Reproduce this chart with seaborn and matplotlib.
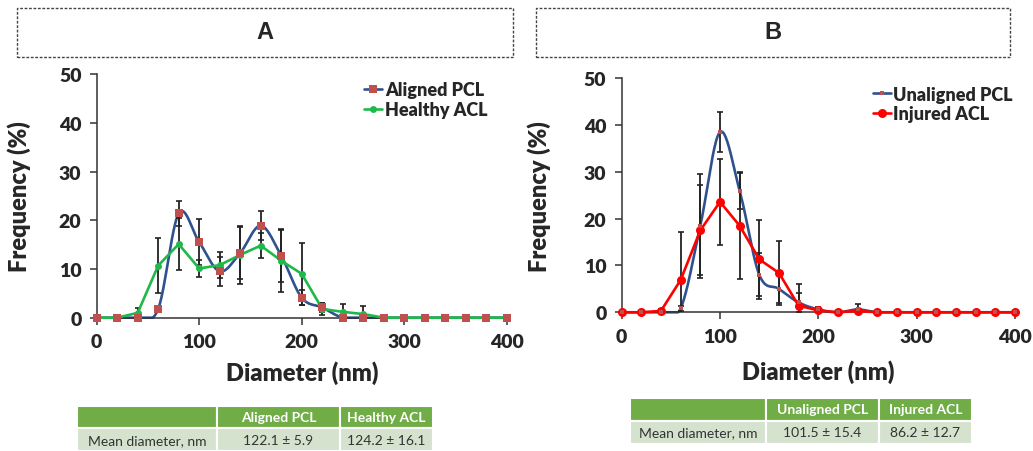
import matplotlib
matplotlib.use("Agg")
import matplotlib.pyplot as plt
from matplotlib.lines import Line2D
from matplotlib.patches import Rectangle
import numpy as np
import pandas as pd
import seaborn as sns

# ---- data ----
diameter = list(range(0, 401, 20))

aligned_pcl = [0, 0, 0, 1.8, 21.4, 15.5, 9.5, 13.3, 18.9, 12.7, 4.1, 2.1,
               0, 0, 0, 0, 0, 0, 0, 0, 0]
aligned_err = [0, 0, 0, 0.5, 2.6, 4.7, 3.0, 5.4, 2.9, 5.3, 1.5, 1.0,
               0, 0, 0, 0, 0, 0, 0, 0, 0]
healthy_acl = [0, 0, 1.0, 10.7, 15.1, 10.1, 10.8, 12.9, 14.8, 11.7, 9.0, 1.8,
               1.2, 0.75, 0, 0, 0, 0, 0, 0, 0]
healthy_err = [0, 0, 0.9, 5.6, 5.3, 1.7, 2.6, 5.9, 2.5, 6.5, 6.3, 1.2,
               1.6, 1.7, 0, 0, 0, 0, 0, 0, 0]

unaligned_pcl = [0, 0, 0, 0.85, 18.5, 38.5, 26.0, 8.0, 5.0, 2.1, 0.6, 0,
                 0.6, 0, 0, 0, 0, 0, 0, 0, 0]
unaligned_err = [0, 0, 0, 0.5, 11.1, 4.3, 4.0, 4.6, 3.0, 2.0, 0.5, 0,
                 1.2, 0, 0, 0, 0, 0, 0, 0, 0]
injured_acl = [0, 0, 0.3, 6.9, 17.5, 23.6, 18.5, 11.3, 8.4, 1.4, 0.4, 0,
               0.3, 0, 0, 0, 0, 0, 0, 0, 0]
injured_err = [0, 0, 0.3, 10.3, 9.6, 9.2, 11.3, 8.4, 6.9, 4.6, 0.3, 0,
               0, 0, 0, 0, 0, 0, 0, 0, 0]

table_a_cols = ["", "Aligned PCL", "Healthy ACL"]
table_a_row = ["Mean diameter, nm", "122.1 \u00b1 5.9", "124.2 \u00b1 16.1"]
table_b_cols = ["", "Unaligned PCL", "Injured ACL"]
table_b_row = ["Mean diameter, nm", "101.5 \u00b1 15.4", "86.2 \u00b1 12.7"]

BLUE = "#2F528F"
MUTED_RED = "#C0504D"
GREEN = "#1FB94A"
RED = "#FF0000"
HEAD_GREEN = "#70AD47"
ROW_GREEN = "#D5E3CE"
HEAVY = "heavy"


def smooth(x, y, n=24):
    """Catmull-Rom curve through the points, similar to Excel's smoothed line."""
    x = np.asarray(x, float)
    y = np.asarray(y, float)
    yp = np.concatenate([[y[0]], y, [y[-1]]])
    xs, ys = [], []
    t = np.linspace(0, 1, n, endpoint=False)
    for i in range(len(x) - 1):
        p0, p1, p2, p3 = yp[i], yp[i + 1], yp[i + 2], yp[i + 3]
        seg = 0.5 * (2 * p1 + (-p0 + p2) * t + (2 * p0 - 5 * p1 + 4 * p2 - p3) * t ** 2
                     + (-p0 + 3 * p1 - 3 * p2 + p3) * t ** 3)
        xs.append(x[i] + (x[i + 1] - x[i]) * t)
        ys.append(seg)
    xs.append([x[-1]])
    ys.append([y[-1]])
    return np.concatenate(xs), np.maximum(np.concatenate(ys), 0)


sns.set_style("ticks")
plt.rcParams["font.family"] = ["Lato", "DejaVu Sans"]
plt.rcParams["font.weight"] = HEAVY

fig = plt.figure(figsize=(10.33, 4.52), dpi=100)


def draw_panel(rect, smooth_vals, smooth_err, smooth_label, smooth_ms,
               line_vals, line_err, line_label, line_color, line_ms, legend_anchor,
               ylabel_x, xlabel_y):
    ax = fig.add_axes(rect)
    df = pd.DataFrame({"d": diameter, "s": smooth_vals, "l": line_vals})

    # error bars
    ax.errorbar(diameter, smooth_vals, yerr=smooth_err, fmt="none", ecolor="#222222",
                elinewidth=1.3, capsize=2, capthick=1.2, zorder=3)
    ax.errorbar(diameter, line_vals, yerr=line_err, fmt="none", ecolor="#222222",
                elinewidth=1.3, capsize=2, capthick=1.2, zorder=3)

    # smoothed series
    sx, sy = smooth(diameter, smooth_vals)
    sm = pd.DataFrame({"d": sx, "v": sy})
    sns.lineplot(data=sm, x="d", y="v", ax=ax, color=BLUE, linewidth=1.9,
                 zorder=2, clip_on=False)
    # straight series
    sns.lineplot(data=df, x="d", y="l", ax=ax, color=line_color, linewidth=1.9,
                 marker="o", markersize=line_ms, markeredgewidth=0,
                 markerfacecolor=line_color, zorder=4, clip_on=False)
    # markers of the smoothed series
    sns.scatterplot(data=df, x="d", y="s", ax=ax, color=MUTED_RED, marker="s",
                    s=smooth_ms ** 2, linewidth=0, zorder=5, clip_on=False)

    ax.set_xlim(0, 400)
    ax.set_ylim(0, 50)
    ax.set_xticks(range(0, 401, 100))
    ax.set_yticks(range(0, 51, 10))
    ax.tick_params(axis="both", direction="out", length=5, width=1.1,
                   labelsize=14, color="#333333", pad=6)
    for lab in ax.get_xticklabels() + ax.get_yticklabels():
        lab.set_fontweight(HEAVY)
    for side in ("top", "right"):
        ax.spines[side].set_visible(False)
    for side in ("left", "bottom"):
        ax.spines[side].set_linewidth(1.1)
        ax.spines[side].set_color("#333333")

    ax.set_xlabel("Diameter (nm)", fontsize=17, fontweight=HEAVY)
    ax.set_ylabel("Frequency (%)", fontsize=17, fontweight=HEAVY)
    ax.xaxis.set_label_coords(0.5, xlabel_y)
    ax.yaxis.set_label_coords(ylabel_x, 0.5)

    handles = [
        Line2D([], [], color=BLUE, linewidth=1.9, marker="s", markersize=smooth_ms,
               markerfacecolor=MUTED_RED, markeredgewidth=0),
        Line2D([], [], color=line_color, linewidth=1.9, marker="o", markersize=line_ms,
               markerfacecolor=line_color, markeredgewidth=0),
    ]
    ax.legend(handles, [smooth_label, line_label], loc="upper left",
              bbox_to_anchor=legend_anchor, frameon=False, handlelength=1.0,
              handletextpad=0.15, labelspacing=0.15, borderaxespad=0,
              prop={"size": 13, "weight": HEAVY})
    return ax


draw_panel([0.0936, 0.2949, 0.397, 0.539], aligned_pcl, aligned_err, "Aligned PCL", 6,
           healthy_acl, healthy_err, "Healthy ACL", GREEN, 5, (0.635, 1.0),
           -0.16, -0.175)
draw_panel([0.6018, 0.3069, 0.3807, 0.5177], unaligned_pcl, unaligned_err,
           "Unaligned PCL", 3.5, injured_acl, injured_err, "Injured ACL", RED, 6.5,
           (0.62, 1.0), -0.18, -0.2)

# ---- panel title boxes ----
for (x0, w, letter) in [(0.0165, 0.4802, "A"), (0.5189, 0.4589, "B")]:
    fig.add_artist(Rectangle((x0, 0.8717), w, 0.1084, transform=fig.transFigure,
                             fill=False, edgecolor="#444444", linewidth=1.0,
                             linestyle=(0, (2, 1.2))))
    fig.text(x0 + w / 2, 0.927, letter, ha="center", va="center", fontsize=17,
             fontweight="bold", family="Liberation Sans")


# ---- summary tables ----
def draw_table(rect, cols, row, widths):
    tax = fig.add_axes(rect)
    tax.axis("off")
    tbl = tax.table(cellText=[row], colLabels=cols, colWidths=widths,
                    cellLoc="center", bbox=[0, 0, 1, 1])
    tbl.auto_set_font_size(False)
    for (r, c), cell in tbl.get_celld().items():
        cell.set_edgecolor("white")
        cell.set_linewidth(1.5)
        txt = cell.get_text()
        txt.set_fontsize(10)
        if r == 0:
            cell.set_facecolor(HEAD_GREEN)
            txt.set_color("white")
            txt.set_fontweight("bold")
        else:
            cell.set_facecolor(ROW_GREEN)
            txt.set_color("#333333")
            txt.set_fontweight("normal")
    return tax


draw_table([0.0745, 0.0, 0.3446, 0.0996], table_a_cols, table_a_row,
           [0.393, 0.346, 0.261])
draw_table([0.6099, 0.0155, 0.331, 0.1018], table_b_cols, table_b_row,
           [0.398, 0.330, 0.272])

fig.savefig("out.png", dpi=100)
